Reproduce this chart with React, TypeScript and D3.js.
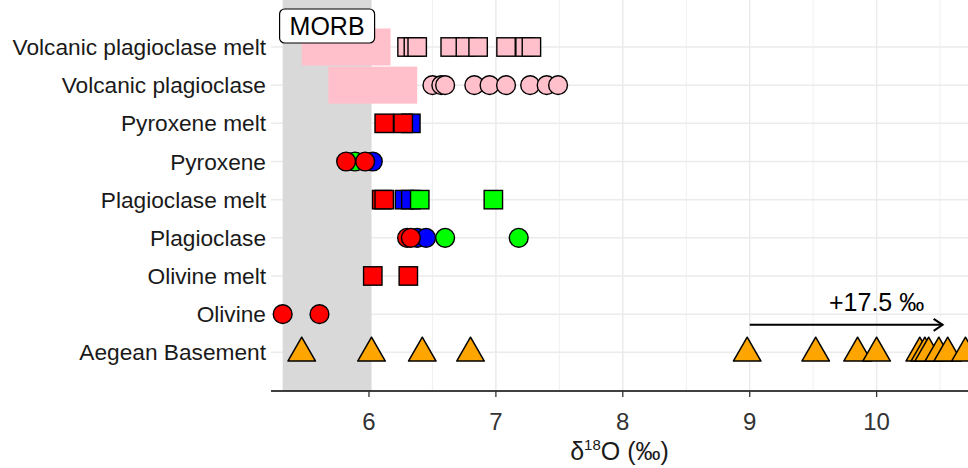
import React from "react";
import * as d3 from "d3";

// rows, top to bottom
const categories = [
  "Volcanic plagioclase melt",
  "Volcanic plagioclase",
  "Pyroxene melt",
  "Pyroxene",
  "Plagioclase melt",
  "Plagioclase",
  "Olivine melt",
  "Olivine",
  "Aegean Basement",
];

const pinkValues: Record<string, number[]> = {
  "Volcanic plagioclase melt": [6.3, 6.35, 6.38, 6.64, 6.76, 6.86, 7.08, 7.23, 7.28],
  "Volcanic plagioclase": [6.5, 6.57, 6.6, 6.83, 6.95, 7.08, 7.27, 7.4, 7.49],
};
const blueValues: Record<string, number[]> = {
  "Pyroxene melt": [6.33],
  Pyroxene: [6.03],
  "Plagioclase melt": [6.28, 6.33],
  Plagioclase: [6.38, 6.45],
};
const greenValues: Record<string, number[]> = {
  Pyroxene: [5.89],
  "Plagioclase melt": [6.4, 6.98],
  Plagioclase: [6.6, 7.18],
};
const redValues: Record<string, number[]> = {
  "Pyroxene melt": [6.12, 6.27],
  Pyroxene: [5.82, 5.97],
  "Plagioclase melt": [6.1, 6.12],
  Plagioclase: [6.3, 6.33],
  "Olivine melt": [6.03, 6.31],
  Olivine: [5.32, 5.61],
};
const basementValues = [
  5.47, 6.02, 6.42, 6.8, 8.98, 9.52, 9.85, 10.0, 10.34, 10.38, 10.41, 10.49,
  10.56, 10.7,
];

// shaded ranges
const morbRange = [5.32, 6.02];
const pinkRanges: [string, number, number][] = [
  ["Volcanic plagioclase melt", 5.47, 6.17],
  ["Volcanic plagioclase", 5.68, 6.38],
];
const arrowRange = [9.0, 10.52];
const xTicks = [6, 7, 8, 9, 10];

const FONT = "'Liberation Sans', Arial, Helvetica, sans-serif";

const App = () => {
  const width = 968;
  const height = 468;
  const panel = { left: 271, right: 968, top: 0, bottom: 391 };

  const x = d3.scaleLinear().domain([5.228, 10.72]).range([panel.left, panel.right]);
  const y = d3.scalePoint<string>().domain(categories).range([47, 352.3]);
  const step = y.step();

  const minor = d3.range(5.5, 10.6, 1);
  const tri = d3.symbol().type(d3.symbolTriangle).size(330)();

  const marker = (cat: string, v: number, fill: string, key: string) => {
    const cx = x(v);
    const cy = y(cat)!;
    if (cat === "Aegean Basement") {
      return (
        <path key={key} d={tri!} transform={`translate(${cx},${cy + 0.8})`}
          fill={fill} stroke="#000" strokeWidth={1.5} strokeLinejoin="round" />
      );
    }
    if (cat.includes("melt")) {
      return (
        <rect key={key} x={cx - 9.2} y={cy - 9.2} width={18.4} height={18.4}
          fill={fill} stroke="#000" strokeWidth={1.4} />
      );
    }
    return <circle key={key} cx={cx} cy={cy} r={9.4} fill={fill} stroke="#000" strokeWidth={1.4} />;
  };

  const group = (vals: Record<string, number[]>, fill: string) =>
    Object.entries(vals).flatMap(([cat, arr]) =>
      arr.map((v, i) => marker(cat, v, fill, `${fill}-${cat}-${i}`))
    );

  const arrowY = y("Aegean Basement")! - 0.72 * step;
  const ax1 = x(arrowRange[1]);
  const labelY = y(categories[0])! - 0.55 * step;
  const labelX = x((morbRange[0] + pinkRanges[1][1]) / 2 + 0.17);

  return (
    <div style={{ position: "absolute", left: 0, top: 0 }}>
      <svg width={width} height={height} style={{ display: "block", background: "#fff" }} fontFamily={FONT}>
        {/* grid */}
        {minor.map((t) => (
          <line key={"mn" + t} x1={x(t)} x2={x(t)} y1={panel.top} y2={panel.bottom} stroke="#f0f0f0" strokeWidth={1} />
        ))}
        {xTicks.map((t) => (
          <line key={"mj" + t} x1={x(t)} x2={x(t)} y1={panel.top} y2={panel.bottom} stroke="#ebebeb" strokeWidth={1.5} />
        ))}
        {categories.map((c) => (
          <line key={"h" + c} x1={panel.left} x2={panel.right} y1={y(c)} y2={y(c)} stroke="#ebebeb" strokeWidth={1.5} />
        ))}

        {/* MORB band and volcanic ranges */}
        <rect x={x(morbRange[0])} y={panel.top} width={x(morbRange[1]) - x(morbRange[0])}
          height={panel.bottom - panel.top} fill="#d9d9d9" />
        {pinkRanges.map(([cat, a, b]) => (
          <rect key={"pr" + cat} x={x(a)} y={y(cat)! - 0.485 * step} width={x(b) - x(a)}
            height={0.97 * step} fill="#ffc0cb" />
        ))}

        {/* MORB label */}
        <rect x={labelX - 47.5} y={labelY - 17} width={95} height={34} rx={5} fill="#fff" stroke="#000" strokeWidth={1.2} />
        <text x={labelX} y={labelY} dy="0.36em" textAnchor="middle" fontSize={25} fill="#000">MORB</text>

        {/* points */}
        {group(pinkValues, "#ffc0cb")}
        {group(blueValues, "#0000ff")}
        {group(greenValues, "#00ff00")}
        {group(redValues, "#ff0000")}
        {basementValues.map((v, i) => marker("Aegean Basement", v, "#ffa500", "b" + i))}

        {/* arrow */}
        <line x1={x(arrowRange[0])} x2={ax1} y1={arrowY} y2={arrowY} stroke="#000" strokeWidth={2} />
        <path d={`M${ax1 - 9},${arrowY - 6}L${ax1},${arrowY}L${ax1 - 9},${arrowY + 6}`} fill="none" stroke="#000" strokeWidth={2} />
        <text x={x(10.0)} y={arrowY - 14} textAnchor="middle" fontSize={25} fill="#000">+17.5 ‰</text>

        {/* x axis */}
        <line x1={panel.left} x2={panel.right} y1={panel.bottom} y2={panel.bottom} stroke="#000" strokeWidth={1.6} />
        {xTicks.map((t) => (
          <g key={"t" + t}>
            <line x1={x(t)} x2={x(t)} y1={panel.bottom} y2={panel.bottom + 6} stroke="#333" strokeWidth={1.3} />
            <text x={x(t)} y={panel.bottom + 39} textAnchor="middle" fontSize={24} fill="#333">{t}</text>
          </g>
        ))}
        <text x={(panel.left + panel.right) / 2} y={460} textAnchor="middle" fontSize={25} fill="#1a1a1a">
          δ<tspan dy={-10} fontSize={15}>18</tspan><tspan dy={10}>O (‰)</tspan>
        </text>

        {/* y labels */}
        {categories.map((c) => (
          <text key={"yl" + c} x={266} y={y(c)} dy="0.36em" textAnchor="end" fontSize={22.7} fill="#1a1a1a">{c}</text>
        ))}
      </svg>
    </div>
  );
};

export default App;
